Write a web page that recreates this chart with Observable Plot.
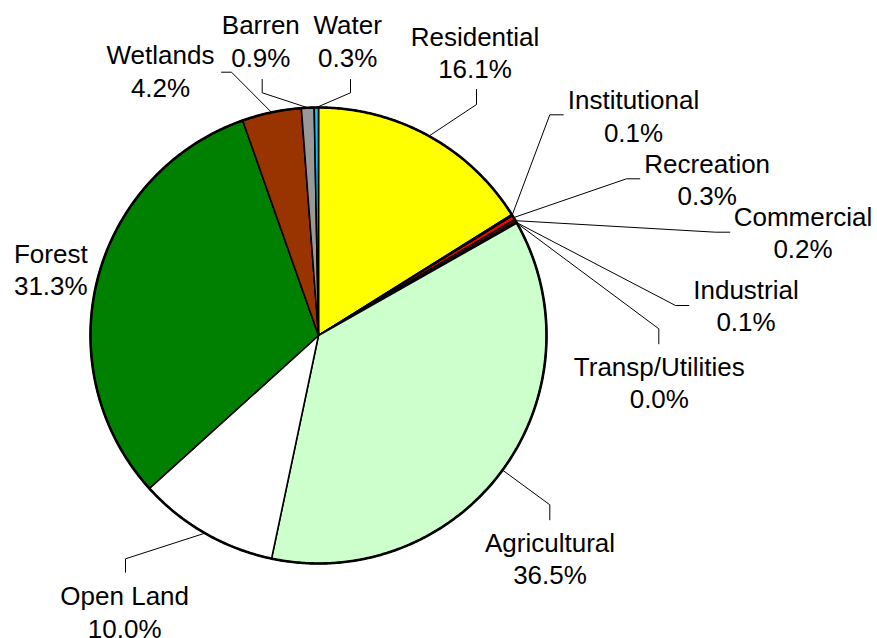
<!DOCTYPE html>
<html>
<head>
<meta charset="utf-8">
<script src="https://cdn.jsdelivr.net/npm/d3@7"></script>
<script src="https://cdn.jsdelivr.net/npm/@observablehq/plot@0.6"></script>
<style>
  html, body { margin: 0; padding: 0; background: #ffffff; }
  #chart svg { display: block; }
</style>
</head>
<body>
<div id="chart"></div>
<script>
// ---- data ----
const categories = ["Residential","Institutional","Recreation","Commercial","Industrial","Transp/Utilities","Agricultural","Open Land","Forest","Wetlands","Barren","Water"];
const shares = [16.1, 0.1, 0.3, 0.2, 0.1, 0.0, 36.5, 10.0, 31.3, 4.2, 0.9, 0.3];
const colors = ["#FFFF00","#FFFFCC","#FF0000","#800000","#800080","#0000FF","#CCFFCC","#FFFFFF","#008000","#993300","#999999","#00CCFF"];

// ---- layout (pixel-space scale) ----
const W = 877, H = 638;
const cx = 318, cy = 335, R = 228;
// label block centre and leader elbow/end points
const labelPos = {
  "Residential":      {x: 474.5, y: 51.2,  leg: [[476, 104], [476, 89]]},
  "Institutional":    {x: 633,   y: 114.4, leg: [[549.3, 114.3], [562.7, 114.3]]},
  "Recreation":       {x: 706.7, y: 178,   leg: [[626, 178.3], [639.3, 178.3]]},
  "Commercial":       {x: 802.5, y: 231.2, leg: [[715, 231.7], [729.3, 231.7]]},
  "Industrial":       {x: 745.5, y: 304,   leg: [[675, 305], [688.3, 305]]},
  "Transp/Utilities": {x: 658.8, y: 381.2, leg: [[658.3, 328.3], [658.3, 343.3]]},
  "Agricultural":     {x: 549.5, y: 557.2, leg: [[549.3, 504.3], [549.3, 519.3]]},
  "Open Land":        {x: 124.2, y: 610.6, leg: [[125, 558.3], [125, 571.7]]},
  "Forest":           {x: 50.3,  y: 268,   leg: null},
  "Wetlands":         {x: 160,   y: 69.6,  leg: [[231, 71.7], [221, 71.7]]},
  "Barren":           {x: 260.3, y: 39.6,  leg: [[261.7, 92.3], [261.7, 79]]},
  "Water":            {x: 347.2, y: 39.6,  leg: [[350, 92.3], [350, 79]]}
};

const rows = categories.map((name, i) => ({name, share: shares[i]}));
const arcs = d3.pie().sort(null).value(d => d.share)(rows);
const px = (a, r) => cx + r * Math.sin(a);
const py = (a, r) => cy - r * Math.cos(a);

// slice polygons
const slicePts = [];
arcs.forEach(a => {
  const name = a.data.name;
  if (a.endAngle - a.startAngle <= 0) return;
  slicePts.push({name, x: cx, y: cy});
  const n = Math.max(2, Math.ceil((a.endAngle - a.startAngle) / (Math.PI / 360)));
  for (let k = 0; k <= n; k++) {
    const t = a.startAngle + (a.endAngle - a.startAngle) * k / n;
    slicePts.push({name, x: px(t, R), y: py(t, R)});
  }
});

// outer rim
const rim = d3.range(0, 721).map(k => {
  const t = k / 720 * 2 * Math.PI;
  return {x: px(t, R), y: py(t, R)};
});

// leaders
const leaderPts = [];
arcs.forEach(a => {
  const name = a.data.name;
  const lp = labelPos[name];
  if (!lp.leg) return;
  const mid = (a.startAngle + a.endAngle) / 2;
  leaderPts.push({name, x: px(mid, R), y: py(mid, R)});
  lp.leg.forEach(p => leaderPts.push({name, x: p[0], y: p[1]}));
});

const labels = rows.map(d => ({
  name: d.name,
  x: labelPos[d.name].x,
  y: labelPos[d.name].y,
  text: d.name + "\n" + d.share.toFixed(1) + "%"
}));

const chart = Plot.plot({
  width: W,
  height: H,
  margin: 0,
  style: {background: "#ffffff", fontFamily: "'Liberation Sans', Arial, sans-serif"},
  x: {domain: [0, W], range: [0, W], axis: null},
  y: {domain: [0, H], range: [0, H], axis: null},
  color: {domain: categories, range: colors},
  marks: [
    Plot.line(leaderPts, {x: "x", y: "y", z: "name", stroke: "#000000", strokeWidth: 1}),
    Plot.line(slicePts, {x: "x", y: "y", z: "name", fill: "name", stroke: "#000000", strokeWidth: 1.6, strokeLinejoin: "round", curve: "linear-closed"}),
    Plot.line(rim, {x: "x", y: "y", stroke: "#000000", strokeWidth: 2.6}),
    Plot.text(labels, {x: "x", y: "y", text: "text", fontSize: 26, lineHeight: 1.25, textAnchor: "middle", lineAnchor: "middle", fill: "#000000"})
  ]
});
document.getElementById("chart").appendChild(chart);
</script>
</body>
</html>
